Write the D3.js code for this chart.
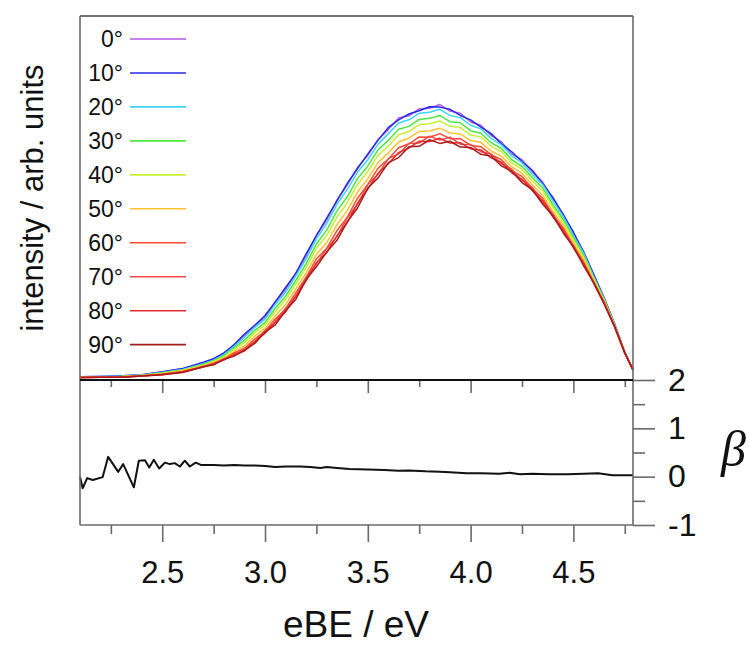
<!DOCTYPE html>
<html lang="en">
  <head>
    <meta charset="UTF-8" />
    <title>PAD spectra</title>
    <style>
      body { margin: 0; background: #fff; }
      text { font-family: "Liberation Sans", Arial, sans-serif; fill: #111; }
    </style>
  </head>
  <body>
    <svg id="svg" width="749" height="646"></svg>

    <script src="https://d3js.org/d3.v7.min.js"></script>
    <script>
      // energy grid (eV) shared by all angle traces
      const eBE = [2.10, 2.20, 2.30, 2.40, 2.50, 2.60, 2.70, 2.75, 2.80, 2.85, 2.90, 2.95, 3.00, 3.05, 3.10, 3.15,
        3.20, 3.25, 3.30, 3.35, 3.40, 3.45, 3.50, 3.55, 3.60, 3.65, 3.70, 3.75, 3.80, 3.85, 3.90, 3.95,
        4.00, 4.05, 4.10, 4.15, 4.20, 4.25, 4.30, 4.35, 4.40, 4.45, 4.50, 4.55, 4.60, 4.65, 4.70, 4.75, 4.79];

      const angles = ["0°", "10°", "20°", "30°", "40°", "50°", "60°", "70°", "80°", "90°"];
      const colors = ["#b45ae0", "#2a2ae6", "#3cd6f4", "#4ee640", "#c8f032", "#ffc232", "#ff4a32", "#f24a4a", "#e42c2c", "#a81c1c"];

      // intensities, arb. units
      const int0 = [0.6, 0.7, 0.8, 1.1, 1.9, 2.8, 4.3, 5.5, 6.9, 9.4, 11.9, 14.7, 17.0, 21.3, 24.6, 29.2,
        33.9, 39.6, 43.8, 49.3, 53.4, 58.3, 61.6, 66.0, 68.7, 71.9, 72.5, 74.4, 74.6, 75.6, 73.8, 73.2,
        70.8, 69.9, 67.1, 65.3, 62.0, 60.4, 57.1, 54.3, 49.6, 45.5, 40.0, 35.1, 28.4, 22.3, 15.0, 7.4, 2.5];
      const int10 = [0.6, 0.7, 0.9, 1.2, 2.0, 2.9, 4.6, 5.6, 7.2, 9.5, 12.4, 14.8, 17.5, 21.2, 25.2, 29.1,
        34.5, 39.5, 44.3, 49.1, 53.9, 58.0, 62.0, 65.8, 69.3, 71.4, 73.0, 73.9, 75.0, 74.9, 74.3, 72.6,
        71.4, 69.4, 67.6, 64.8, 62.6, 59.9, 57.5, 53.9, 50.0, 45.3, 40.5, 34.9, 28.7, 22.2, 15.3, 7.4, 2.5];
      const int20 = [0.6, 0.7, 0.8, 1.1, 1.8, 2.6, 4.2, 5.2, 6.7, 9.0, 11.5, 14.2, 16.5, 20.5, 23.9, 28.4,
        33.1, 38.6, 42.8, 48.1, 52.2, 57.0, 60.4, 64.7, 67.6, 70.5, 71.4, 73.2, 73.5, 74.3, 72.6, 72.0,
        69.9, 68.9, 66.3, 64.5, 61.5, 59.6, 56.4, 53.6, 49.1, 44.8, 39.6, 34.6, 28.1, 22.0, 15.0, 7.3, 2.5];
      const int30 = [0.5, 0.6, 0.7, 1.0, 1.7, 2.5, 4.0, 5.0, 6.4, 8.6, 10.7, 13.4, 15.6, 19.5, 22.8, 27.2,
        31.8, 37.2, 41.0, 46.3, 50.2, 55.2, 58.7, 63.1, 65.8, 68.8, 69.6, 71.5, 71.8, 72.6, 70.9, 70.6,
        68.4, 67.7, 65.1, 63.5, 60.4, 58.6, 55.5, 52.7, 48.0, 44.0, 38.9, 34.0, 27.7, 21.8, 14.9, 7.3, 2.5];
      const int40 = [0.5, 0.6, 0.7, 1.0, 1.6, 2.4, 3.8, 4.8, 6.1, 8.2, 10.0, 12.7, 14.9, 18.6, 21.8, 26.2,
        30.7, 36.0, 39.5, 44.6, 48.5, 53.6, 57.1, 61.6, 64.2, 67.3, 68.2, 70.1, 70.3, 71.1, 69.6, 69.3,
        67.2, 66.7, 64.1, 62.6, 59.5, 57.8, 54.6, 51.8, 47.3, 43.3, 38.3, 33.5, 27.4, 21.6, 14.8, 7.3, 2.5];
      const int50 = [0.5, 0.6, 0.6, 0.9, 1.4, 2.2, 3.6, 4.6, 5.7, 7.6, 9.1, 11.8, 14.0, 17.4, 20.5, 24.9,
        29.2, 34.4, 37.6, 42.5, 46.4, 51.5, 55.2, 59.6, 62.3, 65.3, 66.4, 68.2, 68.3, 69.1, 67.8, 67.5,
        65.7, 65.2, 62.8, 61.4, 58.4, 56.7, 53.5, 50.7, 46.2, 42.4, 37.4, 32.8, 26.9, 21.3, 14.6, 7.2, 2.5];
      const int60 = [0.4, 0.5, 0.6, 0.9, 1.3, 2.1, 3.4, 4.3, 5.4, 7.2, 8.4, 11.0, 13.2, 16.5, 19.3, 23.8,
        28.0, 33.1, 36.0, 40.9, 44.5, 49.8, 53.6, 58.1, 60.6, 63.7, 64.8, 66.7, 66.6, 67.6, 66.2, 66.2,
        64.4, 64.0, 61.8, 60.4, 57.4, 55.8, 52.5, 49.8, 45.3, 41.6, 36.7, 32.2, 26.5, 21.1, 14.5, 7.2, 2.5];
      const int70 = [0.4, 0.5, 0.5, 0.8, 1.3, 1.9, 3.5, 4.0, 5.6, 6.6, 8.3, 10.2, 13.4, 15.5, 19.5, 22.7,
        28.1, 31.7, 35.9, 39.2, 44.4, 48.1, 53.6, 56.4, 60.7, 62.0, 64.9, 65.0, 66.9, 65.8, 66.6, 64.7,
        64.6, 62.6, 62.0, 59.3, 57.8, 54.7, 52.8, 48.8, 45.5, 40.8, 36.8, 31.5, 26.6, 20.7, 14.6, 7.2, 2.5];
      const int80 = [0.4, 0.5, 0.5, 0.8, 1.2, 2.0, 3.3, 4.2, 5.2, 6.8, 7.7, 10.4, 12.6, 15.8, 18.5, 22.9,
        27.1, 32.0, 34.8, 39.5, 43.1, 48.4, 52.3, 56.7, 59.3, 62.4, 63.6, 65.5, 65.4, 66.3, 65.0, 65.1,
        63.4, 63.1, 60.9, 59.7, 56.8, 55.0, 51.9, 49.1, 44.7, 41.0, 36.2, 31.8, 26.2, 20.9, 14.4, 7.2, 2.5];
      const int90 = [0.4, 0.5, 0.5, 0.8, 1.2, 1.8, 3.4, 3.9, 5.4, 6.3, 7.9, 9.8, 12.9, 14.9, 18.8, 22.0,
        27.4, 30.9, 35.0, 38.2, 43.3, 47.1, 52.6, 55.4, 59.6, 61.0, 64.0, 64.1, 65.9, 64.9, 65.5, 63.9,
        63.8, 61.9, 61.4, 58.7, 57.2, 54.1, 52.2, 48.2, 45.0, 40.3, 36.4, 31.2, 26.4, 20.6, 14.5, 7.2, 2.5];

      // anisotropy parameter beta
      const betaE = [2.100, 2.113, 2.135, 2.162, 2.210, 2.237, 2.286, 2.310, 2.362, 2.386, 2.416, 2.437, 2.459,
        2.485, 2.513, 2.537, 2.561, 2.586, 2.610, 2.634, 2.663, 2.691, 2.75, 2.80, 2.85, 2.90, 2.95, 3.00,
        3.05, 3.10, 3.17, 3.22, 3.27, 3.30, 3.35, 3.41, 3.50, 3.58, 3.65, 3.70, 3.78, 3.85, 3.90, 3.98,
        4.05, 4.14, 4.19, 4.24, 4.30, 4.38, 4.47, 4.55, 4.62, 4.69, 4.79];
      const beta = [0.00, -0.24, -0.03, -0.07, -0.01, 0.41, 0.10, 0.26, -0.22, 0.33, 0.34, 0.19, 0.35,
        0.17, 0.29, 0.26, 0.28, 0.21, 0.33, 0.21, 0.29, 0.24, 0.24, 0.23, 0.24, 0.23, 0.23, 0.22,
        0.20, 0.21, 0.21, 0.20, 0.18, 0.20, 0.18, 0.16, 0.15, 0.14, 0.12, 0.13, 0.11, 0.10, 0.09, 0.07,
        0.07, 0.06, 0.08, 0.05, 0.06, 0.05, 0.05, 0.06, 0.07, 0.03, 0.03];

      const majorTicks = [2.5, 3.0, 3.5, 4.0, 4.5];
      const minorTicks = [2.25, 2.75, 3.25, 3.75, 4.25, 4.75];
      const betaMajor = [-1, 0, 1, 2];
      const betaMinor = [-0.5, 0.5, 1.5];

      const series = [int0, int10, int20, int30, int40, int50, int60, int70, int80, int90];

      // panel edges in px
      const pLeft = 80, pRight = 633, pTop = 16, pMid = 380, pBottom = 525;
      const svg = d3.select("#svg");

      const x = d3.scaleLinear().domain([2.1, 4.79]).range([pLeft, pRight]);
      const yI = d3.scaleLinear().domain([0, 100]).range([379, pTop]);
      const yB = d3.scaleLinear().domain([-1, 2]).range([pBottom, pMid]);

      const frame = "#6a6a6a";

      // intensity traces
      const line = d3.line()
        .x((d, i) => x(eBE[i]))
        .y((d) => yI(d));
      svg.append("g")
        .selectAll("path")
        .data(series)
        .join("path")
        .attr("d", line)
        .attr("fill", "none")
        .attr("stroke", (d, i) => colors[i])
        .attr("stroke-width", 1.5)
        .attr("stroke-linejoin", "round");

      // beta trace
      const bLine = d3.line()
        .x((d, i) => x(betaE[i]))
        .y((d) => yB(d));
      svg.append("path")
        .datum(beta)
        .attr("d", bLine)
        .attr("fill", "none")
        .attr("stroke", "#111")
        .attr("stroke-width", 2)
        .attr("stroke-linejoin", "round");

      // frame
      const fr = svg.append("g").attr("stroke", frame).attr("stroke-width", 1.6);
      fr.append("line").attr("x1", pLeft).attr("x2", pRight).attr("y1", pTop).attr("y2", pTop).attr("stroke", "#444");
      fr.append("line").attr("x1", pLeft).attr("x2", pLeft).attr("y1", pTop).attr("y2", pBottom);
      fr.append("line").attr("x1", pRight).attr("x2", pRight).attr("y1", pTop).attr("y2", pBottom);
      fr.append("line").attr("x1", pLeft).attr("x2", pRight).attr("y1", pBottom).attr("y2", pBottom);

      function styleAxis(g) {
        g.select(".domain").remove();
        g.selectAll(".tick line").attr("stroke", frame).attr("stroke-width", 1.6);
      }

      // ticks under the top panel (pointing into the beta panel)
      svg.append("g").attr("transform", `translate(0,${pMid})`)
        .call(d3.axisBottom(x).tickValues(majorTicks).tickSize(13).tickFormat(""))
        .call(styleAxis);
      svg.append("g").attr("transform", `translate(0,${pMid})`)
        .call(d3.axisBottom(x).tickValues(minorTicks).tickSize(7).tickFormat(""))
        .call(styleAxis);
      svg.append("line")
        .attr("x1", pLeft).attr("x2", pRight).attr("y1", pMid).attr("y2", pMid)
        .attr("stroke", "#111").attr("stroke-width", 2);

      // bottom axis
      const xAxis = svg.append("g").attr("transform", `translate(0,${pBottom})`)
        .call(d3.axisBottom(x).tickValues(majorTicks).tickSize(17).tickPadding(19).tickFormat(d3.format(".1f")))
        .call(styleAxis);
      xAxis.selectAll("text").attr("font-size", 31).attr("fill", "#111");
      svg.append("g").attr("transform", `translate(0,${pBottom})`)
        .call(d3.axisBottom(x).tickValues(minorTicks).tickSize(9).tickFormat(""))
        .call(styleAxis);

      // beta axis on the right (plain hyphen for the minus sign)
      const bAxis = svg.append("g").attr("transform", `translate(${pRight},0)`)
        .call(d3.axisRight(yB).tickValues(betaMajor).tickSize(22).tickPadding(13).tickFormat((d) => String(d)))
        .call(styleAxis);
      bAxis.selectAll("text").attr("font-size", 32).attr("fill", "#111");
      svg.append("g").attr("transform", `translate(${pRight},0)`)
        .call(d3.axisRight(yB).tickValues(betaMinor).tickSize(12).tickFormat(""))
        .call(styleAxis);

      // titles
      svg.append("text")
        .attr("x", 356).attr("y", 637)
        .attr("text-anchor", "middle")
        .attr("font-size", 37)
        .text("eBE / eV");
      svg.append("text")
        .attr("transform", "translate(43,198) rotate(-90)")
        .attr("text-anchor", "middle")
        .attr("font-size", 31)
        .text("intensity / arb. units");
      svg.append("text")
        .attr("x", 721).attr("y", 466)
        .attr("font-size", 50)
        .attr("font-style", "italic")
        .style("font-family", "'Liberation Serif', 'DejaVu Serif', serif")
        .text("β");

      // legend
      const legend = svg.append("g")
        .selectAll("g")
        .data(angles)
        .join("g")
        .attr("transform", (d, i) => `translate(0,${39 + i * 33.96})`);
      legend.append("text")
        .attr("x", 123).attr("y", 8)
        .attr("text-anchor", "end")
        .attr("font-size", 23)
        .text((d) => d);
      legend.append("line")
        .attr("x1", 130).attr("x2", 186)
        .attr("stroke", (d, i) => colors[i])
        .attr("stroke-width", 1.6);
    </script>
  </body>
</html>
